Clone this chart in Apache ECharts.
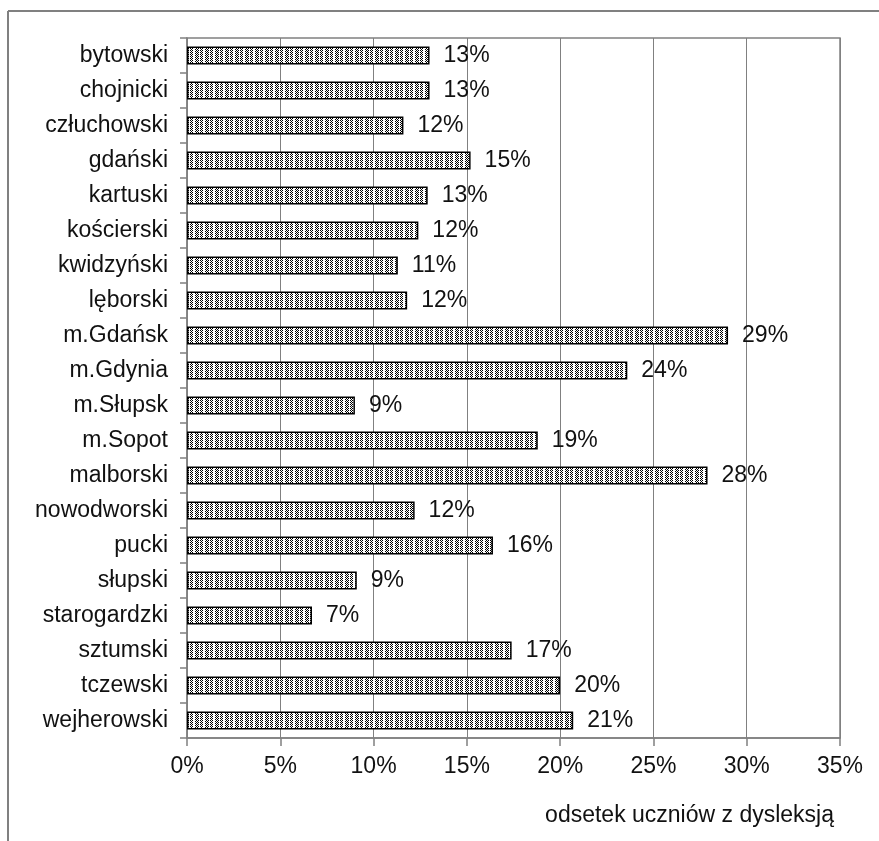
<!DOCTYPE html>
<html>
<head>
<meta charset="utf-8">
<script src="https://cdn.jsdelivr.net/npm/echarts@6/dist/echarts.min.js"></script>
<style>
html,body{margin:0;padding:0;background:#fff;}
#main{width:879px;height:841px;}
</style>
</head>
<body>
<div id="main"></div>
<script>
var categories = ['bytowski','chojnicki','człuchowski','gdański','kartuski','kościerski','kwidzyński','lęborski','m.Gdańsk','m.Gdynia','m.Słupsk','m.Sopot','malborski','nowodworski','pucki','słupski','starogardzki','sztumski','tczewski','wejherowski'];
var values = [13.0,13.0,11.6,15.2,12.9,12.4,11.3,11.8,29.0,23.6,9.0,18.8,27.9,12.2,16.4,9.1,6.7,17.4,20.0,20.7];
var axisTitle = 'odsetek uczniów z dysleksją';

var pc = document.createElement('canvas');
pc.width = 10; pc.height = 4;
var pctx = pc.getContext('2d');
pctx.fillStyle = '#ffffff';
pctx.fillRect(0,0,10,4);
pctx.fillStyle = '#000000';
for (var x = 0; x < 10; x++) {
  for (var y = 0; y < 4; y++) {
    var c = x % 5;
    if (c === 4) continue;
    if (c === 3 && y % 2 === 1) continue;
    if ((x + y) % 2 === 0) pctx.fillRect(x, y, 1, 1);
  }
}

var font = 'Liberation Sans, Arial, sans-serif';
var fs = 23;
var chart = echarts.init(document.getElementById('main'), null, {renderer:'canvas'});
chart.setOption({
  animation: false,
  backgroundColor: '#ffffff',
  grid: {left: 187, right: 39, top: 38, bottom: 103, show: true, borderColor: '#808080', borderWidth: 1.5, containLabel: false},
  title: {text: axisTitle, right: 40, top: 799, textStyle: {fontFamily: font, fontSize: fs, fontWeight: 'normal', color: '#111'}},
  xAxis: {
    type: 'value', min: 0, max: 35, interval: 5,
    axisLine: {show: true, lineStyle: {color: '#808080', width: 1.5}},
    axisTick: {show: true, length: 8, lineStyle: {color: '#808080', width: 1.5}},
    splitLine: {show: true, lineStyle: {color: '#808080', width: 1}},
    axisLabel: {formatter: '{value}%', margin: 17, fontFamily: font, fontSize: fs, color: '#111'}
  },
  yAxis: {
    type: 'category', data: categories, inverse: true,
    axisLine: {show: true, lineStyle: {color: '#808080', width: 1.5}},
    axisTick: {show: true, length: 7, lineStyle: {color: '#808080', width: 1.5}},
    axisLabel: {margin: 19, fontFamily: font, fontSize: fs, color: '#111'}
  },
  series: [{
    type: 'bar', data: values, barWidth: 18,
    itemStyle: {color: {image: pc, repeat: 'repeat'}, borderColor: '#000', borderWidth: 1.5},
    label: {show: true, position: 'right', distance: 14, fontFamily: font, fontSize: fs, color: '#111',
      formatter: function(p){ return Math.round(p.value) + '%'; }}
  }],
  graphic: [
    {type: 'line', shape: {x1: 8, y1: 11, x2: 8, y2: 841}, style: {stroke: '#808080', lineWidth: 2}},
    {type: 'line', shape: {x1: 8, y1: 11, x2: 879, y2: 11}, style: {stroke: '#808080', lineWidth: 2}}
  ]
});
</script>
</body>
</html>
